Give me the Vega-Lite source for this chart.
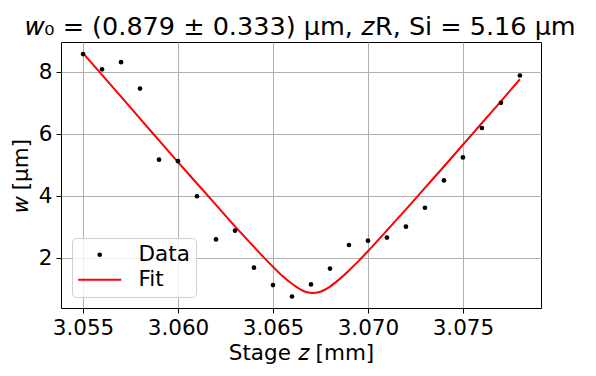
{
  "$schema": "https://vega.github.io/schema/vega-lite/v6.json",
  "width": 480,
  "height": 266,
  "autosize": {"type": "none"},
  "padding": {"left": 61, "top": 42, "right": 55, "bottom": 68},
  "background": "white",
  "title": {
    "text": "𝑤₀ = (0.879 ± 0.333) µm, 𝑧R, Si = 5.16 µm",
    "font": "DejaVu Sans",
    "fontSize": 25.5,
    "fontWeight": "normal",
    "color": "black",
    "anchor": "middle",
    "offset": 2
  },
  "config": {
    "view": {"stroke": "black", "strokeWidth": 1},
    "font": "DejaVu Sans",
    "axis": {
      "labelFont": "DejaVu Sans",
      "titleFont": "DejaVu Sans",
      "labelFontSize": 21.5,
      "titleFontSize": 21.5,
      "titleFontWeight": "normal",
      "labelColor": "black",
      "titleColor": "black",
      "tickColor": "black",
      "tickSize": 5,
      "domain": false,
      "gridColor": "#b0b0b0",
      "gridWidth": 1,
      "gridOpacity": 1
    }
  },
  "datasets": {
    "points": [
      {"z": 3.055, "w": 8.58, "series": "Data"},
      {"z": 3.056, "w": 8.09, "series": "Data"},
      {"z": 3.057, "w": 8.32, "series": "Data"},
      {"z": 3.058, "w": 7.47, "series": "Data"},
      {"z": 3.059, "w": 5.18, "series": "Data"},
      {"z": 3.060, "w": 5.13, "series": "Data"},
      {"z": 3.061, "w": 4.00, "series": "Data"},
      {"z": 3.062, "w": 2.61, "series": "Data"},
      {"z": 3.063, "w": 2.89, "series": "Data"},
      {"z": 3.064, "w": 1.70, "series": "Data"},
      {"z": 3.065, "w": 1.14, "series": "Data"},
      {"z": 3.066, "w": 0.77, "series": "Data"},
      {"z": 3.067, "w": 1.16, "series": "Data"},
      {"z": 3.068, "w": 1.67, "series": "Data"},
      {"z": 3.069, "w": 2.43, "series": "Data"},
      {"z": 3.070, "w": 2.57, "series": "Data"},
      {"z": 3.071, "w": 2.67, "series": "Data"},
      {"z": 3.072, "w": 3.02, "series": "Data"},
      {"z": 3.073, "w": 3.63, "series": "Data"},
      {"z": 3.074, "w": 4.51, "series": "Data"},
      {"z": 3.075, "w": 5.25, "series": "Data"},
      {"z": 3.076, "w": 6.20, "series": "Data"},
      {"z": 3.077, "w": 7.01, "series": "Data"},
      {"z": 3.078, "w": 7.89, "series": "Data"}
    ],
    "fit": [
      {"z": 3.055, "w": 8.61, "series": "Fit"},
      {"z": 3.056, "w": 7.91, "series": "Fit"},
      {"z": 3.057, "w": 7.21, "series": "Fit"},
      {"z": 3.058, "w": 6.50, "series": "Fit"},
      {"z": 3.059, "w": 5.80, "series": "Fit"},
      {"z": 3.060, "w": 5.10, "series": "Fit"},
      {"z": 3.061, "w": 4.41, "series": "Fit"},
      {"z": 3.062, "w": 3.72, "series": "Fit"},
      {"z": 3.063, "w": 3.03, "series": "Fit"},
      {"z": 3.064, "w": 2.37, "series": "Fit"},
      {"z": 3.0645, "w": 2.04, "series": "Fit"},
      {"z": 3.065, "w": 1.73, "series": "Fit"},
      {"z": 3.0655, "w": 1.43, "series": "Fit"},
      {"z": 3.066, "w": 1.18, "series": "Fit"},
      {"z": 3.0665, "w": 0.98, "series": "Fit"},
      {"z": 3.0668, "w": 0.905, "series": "Fit"},
      {"z": 3.0671, "w": 0.88, "series": "Fit"},
      {"z": 3.0674, "w": 0.905, "series": "Fit"},
      {"z": 3.0677, "w": 0.98, "series": "Fit"},
      {"z": 3.068, "w": 1.09, "series": "Fit"},
      {"z": 3.0685, "w": 1.33, "series": "Fit"},
      {"z": 3.069, "w": 1.61, "series": "Fit"},
      {"z": 3.0695, "w": 1.91, "series": "Fit"},
      {"z": 3.070, "w": 2.23, "series": "Fit"},
      {"z": 3.071, "w": 2.90, "series": "Fit"},
      {"z": 3.072, "w": 3.58, "series": "Fit"},
      {"z": 3.073, "w": 4.27, "series": "Fit"},
      {"z": 3.074, "w": 4.96, "series": "Fit"},
      {"z": 3.075, "w": 5.66, "series": "Fit"},
      {"z": 3.076, "w": 6.36, "series": "Fit"},
      {"z": 3.077, "w": 7.06, "series": "Fit"},
      {"z": 3.078, "w": 7.77, "series": "Fit"}
    ]
  },
  "encoding": {
    "x": {
      "field": "z",
      "type": "quantitative",
      "scale": {"domain": [3.05384, 3.07911], "nice": false, "zero": false},
      "axis": {
        "title": "Stage 𝑧 [mm]",
        "values": [3.055, 3.06, 3.065, 3.07, 3.075],
        "format": ".3f",
        "labelPadding": 4,
        "titlePadding": 4
      }
    },
    "y": {
      "field": "w",
      "type": "quantitative",
      "scale": {"domain": [0.4, 8.97], "nice": false, "zero": false},
      "axis": {
        "title": "𝑤 [µm]",
        "values": [2, 4, 6, 8],
        "format": "d",
        "labelPadding": 4,
        "titlePadding": 6
      }
    },
    "color": {
      "field": "series",
      "type": "nominal",
      "scale": {"domain": ["Data", "Fit"], "range": ["black", "red"]},
      "legend": {
        "title": null,
        "orient": "bottom-left",
        "offset": 11,
        "padding": 6,
        "fillColor": "rgba(255,255,255,0.8)",
        "strokeColor": "#d0d0d0",
        "cornerRadius": 4,
        "labelFont": "DejaVu Sans",
        "labelFontSize": 21.5,
        "labelColor": "black",
        "labelOffset": 28,
        "symbolOffset": 11,
        "rowPadding": 2,
        "symbolSize": 1850,
        "symbolType": "circle",
        "encode": {
          "symbols": {
            "update": {
              "shape": {"signal": "datum.value === 'Fit' ? 'stroke' : 'circle'"},
              "size": {"signal": "datum.value === 'Fit' ? 1850 : 22"},
              "strokeWidth": {"signal": "datum.value === 'Fit' ? 2 : 0"},
              "fill": {"signal": "datum.value === 'Fit' ? 'transparent' : 'black'"},
              "stroke": {"signal": "datum.value === 'Fit' ? 'red' : 'black'"},
              "opacity": {"value": 1}
            }
          }
        }
      }
    }
  },
  "layer": [
    {
      "data": {"name": "fit"},
      "mark": {"type": "line", "strokeWidth": 2, "interpolate": "monotone", "clip": true}
    },
    {
      "data": {"name": "points"},
      "mark": {"type": "point", "filled": true, "size": 22, "opacity": 1, "strokeWidth": 0}
    }
  ]
}
